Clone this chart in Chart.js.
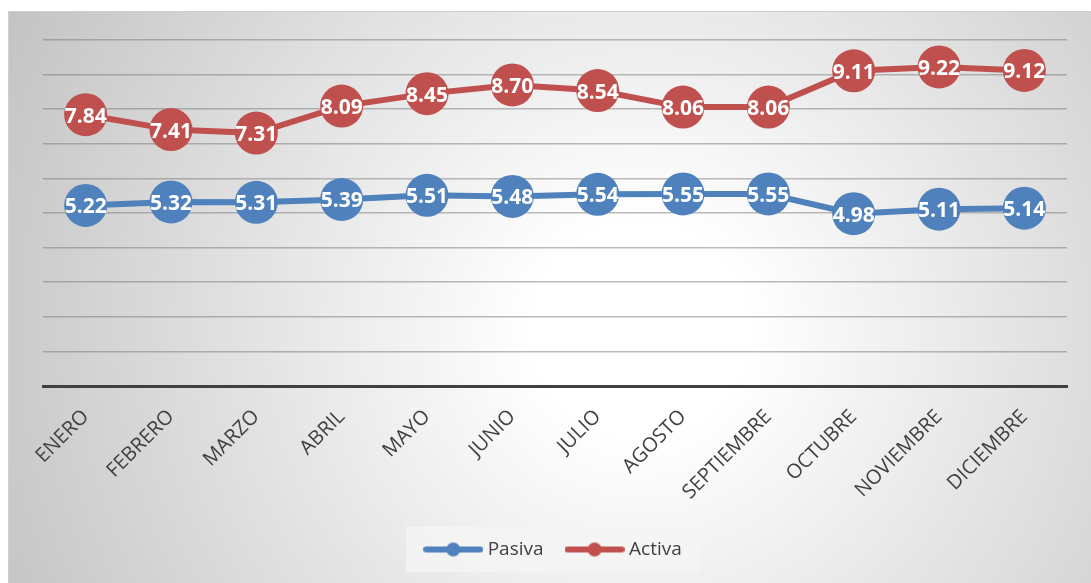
<!DOCTYPE html>
<html>
<head>
<meta charset="utf-8">
<script src="https://cdn.jsdelivr.net/npm/chart.js@4/dist/chart.umd.min.js"></script>
<style>
  html, body { margin: 0; padding: 0; background: #fff; }
  #wrap { width: 1091px; height: 583px; }
</style>
</head>
<body>
<div id="wrap"><canvas id="tasasChart"></canvas></div>
<script>
// months on the x axis
const meses = ['ENERO', 'FEBRERO', 'MARZO', 'ABRIL', 'MAYO', 'JUNIO', 'JULIO',
               'AGOSTO', 'SEPTIEMBRE', 'OCTUBRE', 'NOVIEMBRE', 'DICIEMBRE'];

// monthly rates
const pasiva = [5.22, 5.32, 5.31, 5.39, 5.51, 5.48, 5.54, 5.55, 5.55, 4.98, 5.11, 5.14];
const activa = [7.84, 7.41, 7.31, 8.09, 8.45, 8.70, 8.54, 8.06, 8.06, 9.11, 9.22, 9.12];

// y axis range (ticks hidden, only gridlines shown)
const yMin = 0;
const yMax = 10;
const yStep = 1;

const AZUL = '#4F81BD';
const ROJO = '#C0504D';

// little line-with-dot swatch for the legend
function swatch(color) {
    const cv = document.createElement('canvas');
    cv.width = 60;
    cv.height = 16;
    const g = cv.getContext('2d');
    g.strokeStyle = color;
    g.lineWidth = 6;
    g.lineCap = 'round';
    g.beginPath();
    g.moveTo(3, 8);
    g.lineTo(57, 8);
    g.stroke();
    g.fillStyle = color;
    g.beginPath();
    g.arc(30, 8, 7, 0, Math.PI * 2);
    g.fill();
    return cv;
}
const muestras = [swatch(AZUL), swatch(ROJO)];

// shaded backdrop + legend panel
const fondo = {
    id: 'fondo',
    beforeDraw(chart) {
        const ctx = chart.ctx;
        const w = chart.width, h = chart.height;
        ctx.save();
        ctx.fillStyle = '#ffffff';
        ctx.fillRect(0, 0, w, h);
        const grad = ctx.createRadialGradient(640, 330, 0, 640, 330, 700);
        grad.addColorStop(0, '#ffffff');
        grad.addColorStop(0.15, '#ffffff');
        grad.addColorStop(1, '#c4c4c4');
        ctx.fillStyle = grad;
        ctx.fillRect(8, 11, w - 8, h - 11);
        ctx.strokeStyle = '#d0d0d0';
        ctx.lineWidth = 1;
        ctx.strokeRect(8.5, 11.5, w, h);

        const lg = chart.legend;
        if (lg && lg.legendHitBoxes && lg.legendHitBoxes.length) {
            const hb = lg.legendHitBoxes;
            const first = hb[0], last = hb[hb.length - 1];
            const left = first.left - 22;
            const right = last.left + last.width + 17;
            const cy = first.top + first.height / 2;
            ctx.fillStyle = 'rgba(245,245,245,0.85)';
            ctx.fillRect(left, cy - 23, right - left, 46);
        }
        ctx.restore();
    }
};

// white value inside each marker
const etiquetas = {
    id: 'etiquetas',
    afterDatasetsDraw(chart) {
        const ctx = chart.ctx;
        ctx.save();
        ctx.font = 'bold 21px "Open Sans", sans-serif';
        ctx.fillStyle = '#ffffff';
        ctx.textAlign = 'center';
        ctx.textBaseline = 'middle';
        chart.data.datasets.forEach((ds, i) => {
            const meta = chart.getDatasetMeta(i);
            meta.data.forEach((pt, j) => {
                ctx.fillText(ds.data[j].toFixed(2), pt.x, pt.y + 2);
            });
        });
        ctx.restore();
    }
};

const ctx = document.getElementById('tasasChart').getContext('2d');

new Chart(ctx, {
    type: 'line',
    data: {
        labels: meses,
        datasets: [
            {
                label: 'Pasiva',
                data: pasiva,
                borderColor: AZUL,
                backgroundColor: AZUL,
                borderWidth: 6,
                pointStyle: 'circle',
                pointRadius: 21.5,
                pointHoverRadius: 21.5,
                pointBorderWidth: 0,
                pointBackgroundColor: AZUL,
                tension: 0
            },
            {
                label: 'Activa',
                data: activa,
                borderColor: ROJO,
                backgroundColor: ROJO,
                borderWidth: 6,
                pointStyle: 'circle',
                pointRadius: 21.5,
                pointHoverRadius: 21.5,
                pointBorderWidth: 0,
                pointBackgroundColor: ROJO,
                tension: 0
            }
        ]
    },
    options: {
        responsive: true,
        maintainAspectRatio: false,
        animation: false,
        layout: { padding: { left: 43, right: 24, top: 40, bottom: 14 } },
        plugins: {
            tooltip: { enabled: false },
            legend: {
                position: 'bottom',
                labels: {
                    usePointStyle: true,
                    pointStyleWidth: 50,
                    color: '#404040',
                    font: { family: '"Open Sans", sans-serif', size: 19 },
                    padding: 26,
                    generateLabels(chart) {
                        return chart.data.datasets.map((ds, i) => ({
                            text: ds.label,
                            fontColor: '#404040',
                            pointStyle: muestras[i],
                            fillStyle: ds.borderColor,
                            strokeStyle: ds.borderColor,
                            lineWidth: 0,
                            hidden: false,
                            datasetIndex: i
                        }));
                    }
                }
            }
        },
        scales: {
            x: {
                offset: true,
                grid: { display: false, drawTicks: false },
                border: { display: true, color: '#404040', width: 3 },
                ticks: {
                    color: '#404040',
                    font: { family: '"Open Sans", sans-serif', size: 20 },
                    minRotation: 45,
                    maxRotation: 45,
                    padding: 19
                },
                afterFit(s) { s.height = 128; }
            },
            y: {
                min: yMin,
                max: yMax,
                ticks: { display: false, stepSize: yStep },
                grid: { color: 'rgba(120,120,120,0.5)', lineWidth: 1.5, drawTicks: false },
                border: { display: false },
                afterFit(s) { s.width = 0; }
            }
        }
    },
    plugins: [fondo, etiquetas]
});
</script>
</body>
</html>
